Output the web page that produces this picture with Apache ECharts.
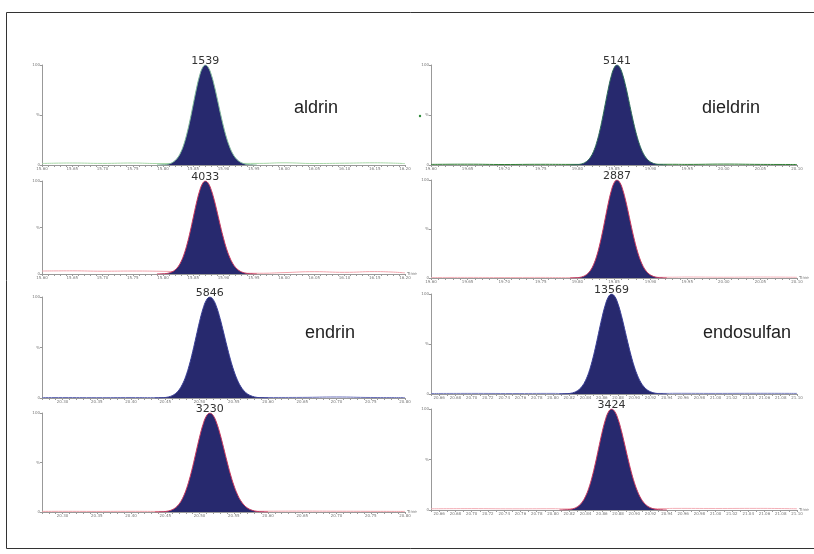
<!DOCTYPE html>
<html>
<head>
<meta charset="utf-8">
<script src="https://cdn.jsdelivr.net/npm/echarts@6/dist/echarts.min.js"></script>
<style>
  html, body { margin: 0; padding: 0; background: #fff; }
  #chart { width: 814px; height: 554px; }
</style>
</head>
<body>
<div id="chart"></div>
<script>
// retention times (min) sampled across each peak
const aldrinTime = [15.790, 15.795, 15.800, 15.805, 15.810, 15.815, 15.820, 15.825, 15.830, 15.835,
  15.840, 15.845, 15.850, 15.855, 15.860, 15.865, 15.870, 15.875, 15.880, 15.885,
  15.890, 15.895, 15.900, 15.905, 15.910, 15.915, 15.920, 15.925, 15.930, 15.935,
  15.940, 15.945, 15.950, 15.955];
const dieldrinTime = [19.790, 19.794, 19.798, 19.802, 19.806, 19.810, 19.814, 19.818, 19.822, 19.826,
  19.830, 19.834, 19.838, 19.842, 19.846, 19.850, 19.854, 19.858, 19.862, 19.866,
  19.870, 19.874, 19.878, 19.882, 19.886, 19.890, 19.894, 19.898, 19.902, 19.906,
  19.910, 19.914, 19.918, 19.922];
const endrinTime = [20.435, 20.440, 20.445, 20.450, 20.455, 20.460, 20.465, 20.470, 20.475, 20.480,
  20.485, 20.490, 20.495, 20.500, 20.505, 20.510, 20.515, 20.520, 20.525, 20.530,
  20.535, 20.540, 20.545, 20.550, 20.555, 20.560, 20.565, 20.570, 20.575, 20.580,
  20.585, 20.590, 20.595, 20.600];
const endosulfanTime = [20.808, 20.812, 20.816, 20.820, 20.824, 20.828, 20.832, 20.836, 20.840, 20.844,
  20.848, 20.852, 20.856, 20.860, 20.864, 20.868, 20.872, 20.876, 20.880, 20.884,
  20.888, 20.892, 20.896, 20.900, 20.904, 20.908, 20.912, 20.916, 20.920, 20.924,
  20.928, 20.932, 20.936, 20.940];

// relative abundance (%) across the peak, same sampling as above
const peakShape = [0, 0.1, 0.2, 0.5, 1.1, 2.3, 4.4, 7.9, 13.5, 21.6,
  32.5, 45.8, 60.7, 75.5, 88.2, 96.9, 100, 97.4, 89.9, 78.7,
  65.3, 51.4, 38.4, 27.2, 18.3, 11.6, 7.0, 4.0, 2.2, 1.1,
  0.5, 0.25, 0.1, 0];

// baseline traces
const aldrinBaseTime = [15.60, 15.65, 15.70, 15.75, 15.79, 15.96, 16.00, 16.05, 16.10, 16.15, 16.20];
const aldrinTrace1 = [1.5, 2.0, 1.6, 2.0, 1.5, 1.6, 2.2, 1.5, 1.8, 2.2, 1.4];
const aldrinTrace2 = [3.2, 3.4, 3.0, 3.2, 3.0, 0.8, 1.5, 2.5, 1.8, 2.6, 1.2];
const dieldrinBaseTime = [19.60, 19.65, 19.70, 19.75, 19.79, 19.93, 19.95, 20.00, 20.05, 20.10];
const dieldrinTrace1 = [0.6, 0.8, 0.5, 0.7, 0.6, 0.7, 0.6, 0.9, 0.6, 0.5];
const dieldrinTrace2 = [0.5, 0.6, 0.5, 0.6, 0.4, 0.8, 1.0, 0.8, 1.0, 0.7];
const endrinBaseTime = [20.27, 20.30, 20.35, 20.40, 20.44, 20.60, 20.65, 20.70, 20.75, 20.80];
const endrinTrace1 = [0.4, 0.5, 0.4, 0.5, 0.4, 0.5, 0.6, 1.0, 0.5, 0.4];
const endrinTrace2 = [0.6, 0.7, 0.6, 0.7, 0.6, 0.8, 0.9, 0.8, 0.7, 0.6];
const endosulfanBaseTime = [20.65, 20.70, 20.75, 20.80, 20.81, 20.94, 20.95, 21.00, 21.05, 21.10];
const endosulfanTrace1 = [0.5, 0.6, 0.5, 0.6, 0.5, 0.6, 0.7, 0.6, 0.7, 0.6];
const endosulfanTrace2 = [1.2, 1.4, 1.2, 1.3, 1.2, 1.5, 1.6, 1.5, 1.6, 1.2];

const compounds = ["aldrin", "dieldrin", "endrin", "endosulfan"];
const peakLabels = ["1539", "5141", "4033", "2887", "5846", "13569", "3230", "3424"];

const chart = echarts.init(document.getElementById("chart"));

const navy = "#27296e";

// one entry per panel: axis range, label step (in 0.01 min), grid box, colours
const panels = [
  { time: aldrinTime, bt: aldrinBaseTime, trace: aldrinTrace1, min: 15.60, max: 16.20, step: 5,
    left: 42, width: 363, top: 65, height: 100, line: "#a8d8a8", edge: "#7fb89a", timeName: "" },
  { time: dieldrinTime, bt: dieldrinBaseTime, trace: dieldrinTrace1, min: 19.60, max: 20.10, step: 5,
    left: 431, width: 366, top: 65, height: 100, line: "#2e7d32", edge: "#2e6b5a", timeName: "" },
  { time: aldrinTime, bt: aldrinBaseTime, trace: aldrinTrace2, min: 15.60, max: 16.20, step: 5,
    left: 42, width: 363, top: 181, height: 93, line: "#f2a3ac", edge: "#c8385e", timeName: "Time" },
  { time: dieldrinTime, bt: dieldrinBaseTime, trace: dieldrinTrace2, min: 19.60, max: 20.10, step: 5,
    left: 431, width: 366, top: 180, height: 98, line: "#f3b0b8", edge: "#c8385e", timeName: "Time" },
  { time: endrinTime, bt: endrinBaseTime, trace: endrinTrace1, min: 20.27, max: 20.80, step: 5,
    left: 42, width: 363, top: 297, height: 101, line: "#6a70b8", edge: "#3a3f95", timeName: "" },
  { time: endosulfanTime, bt: endosulfanBaseTime, trace: endosulfanTrace1, min: 20.65, max: 21.10, step: 2,
    left: 431, width: 366, top: 294, height: 100, line: "#7a80c0", edge: "#3a3f95", timeName: "" },
  { time: endrinTime, bt: endrinBaseTime, trace: endrinTrace2, min: 20.27, max: 20.80, step: 5,
    left: 42, width: 363, top: 413, height: 99, line: "#f0a0a8", edge: "#c8385e", timeName: "Time" },
  { time: endosulfanTime, bt: endosulfanBaseTime, trace: endosulfanTrace2, min: 20.65, max: 21.10, step: 2,
    left: 431, width: 366, top: 409, height: 101, line: "#f3b0b8", edge: "#c8385e", timeName: "Time" },
];

const tinyFont = { fontSize: 4, color: "#777", fontFamily: "DejaVu Sans" };

const grid = [], xAxis = [], yAxis = [], series = [];
const peakIdx = peakShape.indexOf(Math.max(...peakShape));

panels.forEach((p, i) => {
  grid.push({ left: p.left, top: p.top, width: p.width, height: p.height });
  xAxis.push({
    type: "value", gridIndex: i, min: p.min, max: p.max, interval: 0.01,
    name: p.timeName, nameGap: 2, nameTextStyle: tinyFont,
    axisLine: { lineStyle: { color: "#999", width: 1 } },
    axisTick: { length: 2, lineStyle: { color: "#999" } },
    splitLine: { show: false },
    axisLabel: Object.assign({}, tinyFont, {
      margin: 2,
      formatter: (v) => (Math.round(v * 100) % p.step === 0 ? v.toFixed(2) : ""),
    }),
  });
  yAxis.push({
    type: "value", gridIndex: i, min: 0, max: 100, interval: 50,
    axisLine: { show: true, lineStyle: { color: "#999", width: 1 } },
    axisTick: { show: true, length: 2, lineStyle: { color: "#999" } },
    splitLine: { show: false },
    axisLabel: Object.assign({}, tinyFont, {
      margin: 2,
      formatter: (v) => (v === 50 ? "%" : String(v)),
    }),
  });

  // baseline trace
  series.push({
    type: "line", xAxisIndex: i, yAxisIndex: i, smooth: true, symbol: "none",
    data: p.bt.map((t, k) => [t, p.trace[k]]),
    lineStyle: { color: p.line, width: 1 },
    z: 2,
  });

  // filled peak
  series.push({
    type: "line", xAxisIndex: i, yAxisIndex: i, smooth: 0.4, symbol: "none",
    data: p.time.map((t, k) => [t, peakShape[k]]),
    lineStyle: { color: p.edge, width: 1 },
    areaStyle: { color: navy, opacity: 1 },
    z: 3,
    markPoint: {
      symbol: "circle", symbolSize: 1,
      itemStyle: { color: "rgba(0,0,0,0)" },
      label: {
        show: true, position: "top", distance: -2,
        fontSize: 11, color: "#333", fontFamily: "DejaVu Sans",
        formatter: peakLabels[i],
      },
      data: [{ coord: [p.time[peakIdx], 100] }],
    },
  });
});

const nameFont = '18px "Liberation Sans"';
const nameText = (text, x, y) => ({
  type: "text", silent: true, x, y,
  style: { text, font: nameFont, fill: "#222", verticalAlign: "top" },
});

chart.setOption({
  animation: false,
  graphic: [
    {
      type: "rect", silent: true,
      shape: { x: 6.5, y: 12.5, width: 812, height: 536 },
      style: { fill: "none", stroke: "#333", lineWidth: 1 },
    },
    { type: "circle", silent: true, shape: { cx: 420, cy: 116, r: 1.2 }, style: { fill: "#2e8b3a" } },
    nameText(compounds[0], 294, 99),
    nameText(compounds[1], 702, 99),
    nameText(compounds[2], 305, 324),
    nameText(compounds[3], 703, 324),
  ],
  grid, xAxis, yAxis, series,
});
</script>
</body>
</html>
